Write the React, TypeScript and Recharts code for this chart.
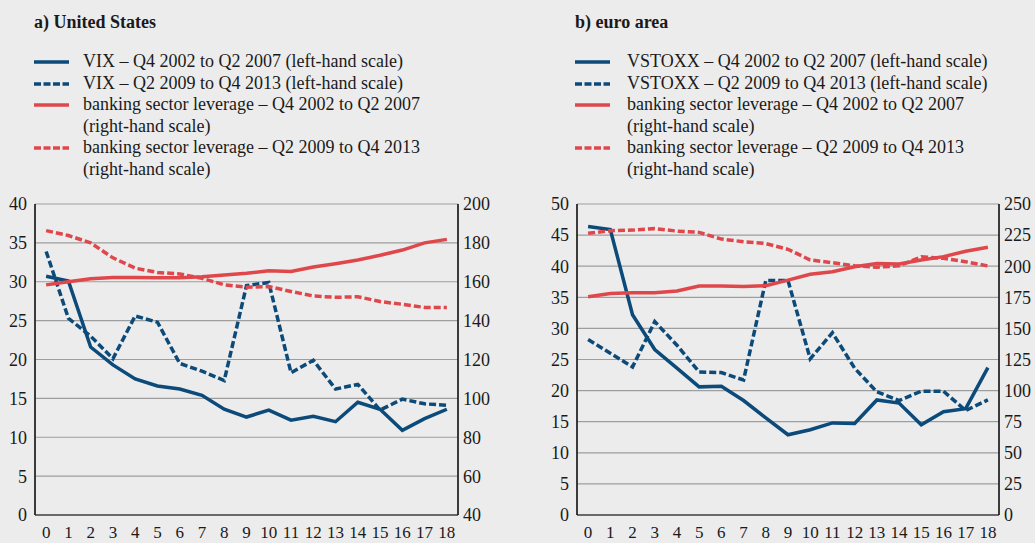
import React from "react";
import { LineChart, Line, XAxis, YAxis, CartesianGrid } from "recharts";

// ---------- data ----------
const quarters = [0, 1, 2, 3, 4, 5, 6, 7, 8, 9, 10, 11, 12, 13, 14, 15, 16, 17, 18];
const bandEdges = [-0.5, 0.5, 1.5, 2.5, 3.5, 4.5, 5.5, 6.5, 7.5, 8.5, 9.5, 10.5, 11.5, 12.5, 13.5, 14.5, 15.5, 16.5, 17.5, 18.5];

// a) United States
const vixPre = [30.7, 30.1, 21.6, 19.3, 17.5, 16.6, 16.2, 15.4, 13.6, 12.6, 13.5, 12.2, 12.7, 12.0, 14.5, 13.6, 10.9, 12.4, 13.6];
const vixPost = [33.9, 25.3, 23.0, 20.1, 25.6, 24.8, 19.5, 18.5, 17.3, 29.5, 29.9, 18.3, 19.9, 16.2, 16.8, 13.5, 14.9, 14.3, 14.1];
const usLevPre = [158.4, 160.0, 161.5, 162.2, 162.2, 162.1, 162.1, 162.6, 163.5, 164.4, 165.6, 165.3, 167.6, 169.3, 171.2, 173.6, 176.3, 180.0, 181.8];
const usLevPost = [186.3, 183.8, 180.0, 172.3, 167.0, 164.8, 164.0, 161.8, 158.4, 157.2, 157.5, 155.0, 152.7, 152.0, 152.3, 149.8, 148.4, 146.8, 146.8];
const usLeftTicks = [0, 5, 10, 15, 20, 25, 30, 35, 40];
const usRightTicks = [40, 60, 80, 100, 120, 140, 160, 180, 200];

// b) euro area
const vstoxxPre = [46.4, 45.9, 32.2, 26.6, 23.6, 20.6, 20.7, 18.4, 15.6, 12.9, 13.7, 14.8, 14.7, 18.5, 18.0, 14.5, 16.6, 17.1, 23.7];
const vstoxxPost = [28.2, 26.0, 23.8, 31.1, 27.3, 23.0, 22.9, 21.7, 37.7, 37.7, 25.1, 29.3, 23.6, 19.8, 18.4, 19.9, 19.9, 16.8, 18.5];
const eaLevPre = [175.5, 178.0, 178.7, 178.7, 180.0, 184.0, 184.0, 183.7, 184.3, 188.8, 193.5, 195.5, 199.5, 202.2, 201.8, 205.0, 207.7, 212.0, 215.2];
const eaLevPost = [226.4, 228.5, 229.0, 230.2, 228.2, 227.2, 221.8, 219.7, 218.2, 213.6, 205.0, 202.8, 200.3, 199.2, 200.3, 207.5, 206.3, 203.6, 200.2];
const eaLeftTicks = [0, 5, 10, 15, 20, 25, 30, 35, 40, 45, 50];
const eaRightTicks = [0, 25, 50, 75, 100, 125, 150, 175, 200, 225, 250];

const usLegend = [
  "VIX – Q4 2002 to Q2 2007 (left-hand scale)",
  "VIX – Q2 2009 to Q4 2013 (left-hand scale)",
  "banking sector leverage – Q4 2002 to Q2 2007\n(right-hand scale)",
  "banking sector leverage – Q2 2009 to Q4 2013\n(right-hand scale)",
];
const eaLegend = [
  "VSTOXX – Q4 2002 to Q2 2007 (left-hand scale)",
  "VSTOXX – Q2 2009 to Q4 2013 (left-hand scale)",
  "banking sector leverage – Q4 2002 to Q2 2007\n(right-hand scale)",
  "banking sector leverage – Q2 2009 to Q4 2013\n(right-hand scale)",
];

// ---------- styles ----------
const BLUE = "#0c4a7a";
const RED = "#e0474b";
const GRID = "#9e9e9e";
const BG = "#ececec";
const TEXT = "#1a1a1a";
const FONT = "Liberation Serif";
const DASH = "7 3";
const legendStyles = [
  { color: BLUE, dash: undefined },
  { color: BLUE, dash: "7 2.5" },
  { color: RED, dash: undefined },
  { color: RED, dash: "7 2.5" },
];

const build = (a: number[], b: number[], c: number[], d: number[]) =>
  quarters.map((q, i) => ({ x: q, pre: a[i], post: b[i], levPre: c[i], levPost: d[i] }));

const usData = build(vixPre, vixPost, usLevPre, usLevPost);
const eaData = build(vstoxxPre, vstoxxPost, eaLevPre, eaLevPost);

function Legend({ title, items, left, textLeft }: { title: string; items: string[]; left: number; textLeft: number }) {
  return (
    <div style={{ position: "absolute", left, top: 0, fontFamily: FONT, color: TEXT }}>
      <div style={{ position: "absolute", left: 0, top: 12, fontWeight: "bold", fontSize: 18, whiteSpace: "nowrap" }}>{title}</div>
      <div style={{ position: "absolute", left: 0, top: 51 }}>
        {items.map((t, i) => (
          <div key={i} style={{ position: "relative", fontSize: 18, lineHeight: "21.5px", whiteSpace: "pre" }}>
            <svg width={36} height={8} style={{ position: "absolute", left: 0, top: 7 }}>
              <line x1={0} y1={4} x2={35} y2={4} stroke={legendStyles[i].color} strokeWidth={3.5} strokeDasharray={legendStyles[i].dash} />
            </svg>
            <div style={{ marginLeft: textLeft }}>{t}</div>
          </div>
        ))}
      </div>
    </div>
  );
}

function Panel({
  data, leftDomain, leftTicks, rightDomain, rightTicks, width, marginLeft, marginRight, rightWidth,
}: {
  data: any[]; leftDomain: [number, number]; leftTicks: number[]; rightDomain: [number, number]; rightTicks: number[];
  width: number; marginLeft: number; marginRight: number; rightWidth: number;
}) {
  const tickStyle = { fontSize: 18, fill: TEXT, fontFamily: FONT };
  return (
    <LineChart width={width} height={353} data={data} margin={{ top: 14, left: marginLeft, right: marginRight, bottom: 0 }}>
      <CartesianGrid xAxisId={0} yAxisId="l" stroke={GRID} strokeWidth={1.2} />
      <XAxis
        xAxisId="sp"
        type="number"
        dataKey="x"
        domain={[-0.5, 18.5]}
        ticks={[]}
        axisLine={false}
        tickLine={false}
        tick={false}
        height={3}
      />
      <XAxis
        xAxisId={0}
        type="number"
        dataKey="x"
        domain={[-0.5, 18.5]}
        ticks={bandEdges}
        interval={0}
        tick={false}
        tickSize={6}
        height={6}
        axisLine={{ stroke: "#111", strokeWidth: 1.2 }}
        tickLine={{ stroke: "#111", strokeWidth: 1.2 }}
      />
      <XAxis
        xAxisId="lab"
        type="number"
        dataKey="x"
        domain={[-0.5, 18.5]}
        ticks={quarters}
        interval={0}
        axisLine={false}
        tickLine={false}
        tickSize={2}
        tickMargin={3}
        height={19}
        tick={{ ...tickStyle, fontSize: 17 }}
      />
      <YAxis
        yAxisId="l"
        domain={leftDomain}
        ticks={leftTicks}
        interval={0}
        width={35}
        tickLine={false}
        axisLine={{ stroke: "#111", strokeWidth: 1.5 }}
        tick={tickStyle}
      />
      <YAxis
        yAxisId="r"
        orientation="right"
        domain={rightDomain}
        ticks={rightTicks}
        interval={0}
        width={rightWidth}
        tickLine={false}
        tickSize={3}
        axisLine={{ stroke: "#111", strokeWidth: 1.5 }}
        tick={tickStyle}
      />
      <Line yAxisId="l" xAxisId={0} dataKey="post" stroke={BLUE} strokeWidth={3.5} strokeDasharray={DASH} dot={false} isAnimationActive={false} />
      <Line yAxisId="l" xAxisId={0} dataKey="pre" stroke={BLUE} strokeWidth={3.5} dot={false} isAnimationActive={false} />
      <Line yAxisId="r" xAxisId={0} dataKey="levPost" stroke={RED} strokeWidth={3.5} strokeDasharray={DASH} dot={false} isAnimationActive={false} />
      <Line yAxisId="r" xAxisId={0} dataKey="levPre" stroke={RED} strokeWidth={3.5} dot={false} isAnimationActive={false} />
    </LineChart>
  );
}

export default function App() {
  return (
    <div style={{ position: "fixed", left: 0, top: 0, width: 1035, height: 543, background: BG, overflow: "hidden", fontFamily: FONT }}>
      <Legend title="a) United States" items={usLegend} left={34} textLeft={49} />
      <Legend title="b) euro area" items={eaLegend} left={575} textLeft={52} />
      <div style={{ position: "absolute", left: 0, top: 190 }}>
        <Panel data={usData} leftDomain={[0, 40]} leftTicks={usLeftTicks} rightDomain={[40, 200]} rightTicks={usRightTicks}
          width={517} marginLeft={0} marginRight={19} rightWidth={40} />
      </div>
      <div style={{ position: "absolute", left: 517, top: 190 }}>
        <Panel data={eaData} leftDomain={[0, 50]} leftTicks={eaLeftTicks} rightDomain={[0, 250]} rightTicks={eaRightTicks}
          width={518} marginLeft={25} marginRight={0} rightWidth={36} />
      </div>
    </div>
  );
}
